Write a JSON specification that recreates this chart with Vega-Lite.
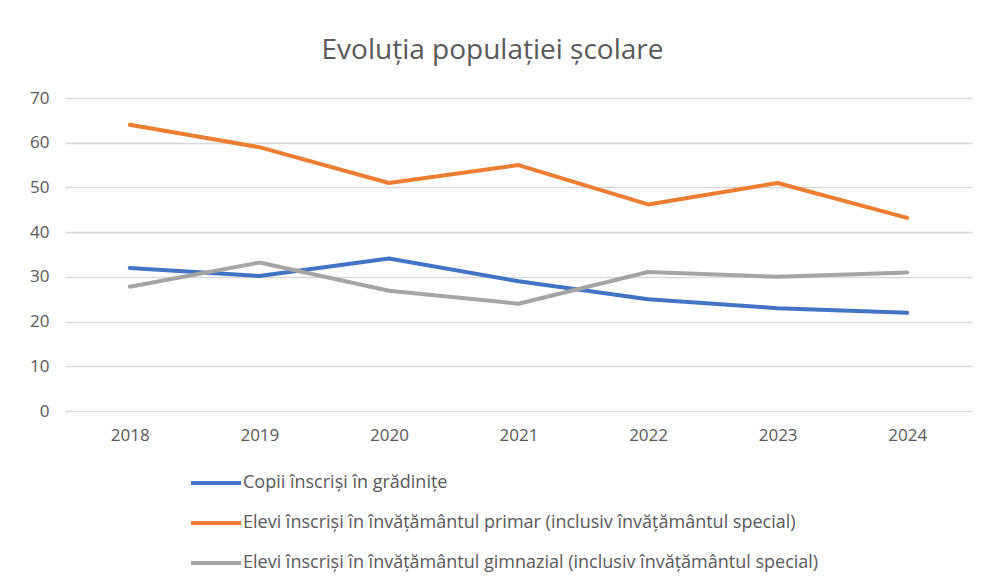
{
  "$schema": "https://vega.github.io/schema/vega-lite/v6.json",
  "width": 907,
  "height": 313,
  "autosize": {"type": "none"},
  "padding": {"left": 65, "top": 98, "right": 10, "bottom": 174},
  "background": "white",
  "title": {
    "text": "Evoluția populației școlare",
    "fontSize": 28,
    "font": "Open Sans",
    "fontWeight": "normal",
    "color": "#595959",
    "anchor": "middle",
    "dx": -26,
    "offset": 24
  },
  "data": {
    "values": [
      {"an": "2018", "serie": "Copii înscriși în grădinițe", "valoare": 32},
      {"an": "2019", "serie": "Copii înscriși în grădinițe", "valoare": 30.2},
      {"an": "2020", "serie": "Copii înscriși în grădinițe", "valoare": 34.1},
      {"an": "2021", "serie": "Copii înscriși în grădinițe", "valoare": 29},
      {"an": "2022", "serie": "Copii înscriși în grădinițe", "valoare": 25},
      {"an": "2023", "serie": "Copii înscriși în grădinițe", "valoare": 23},
      {"an": "2024", "serie": "Copii înscriși în grădinițe", "valoare": 22},
      {"an": "2018", "serie": "Elevi înscriși în învățământul primar (inclusiv învățământul special)", "valoare": 64},
      {"an": "2019", "serie": "Elevi înscriși în învățământul primar (inclusiv învățământul special)", "valoare": 59},
      {"an": "2020", "serie": "Elevi înscriși în învățământul primar (inclusiv învățământul special)", "valoare": 51},
      {"an": "2021", "serie": "Elevi înscriși în învățământul primar (inclusiv învățământul special)", "valoare": 55},
      {"an": "2022", "serie": "Elevi înscriși în învățământul primar (inclusiv învățământul special)", "valoare": 46.2},
      {"an": "2023", "serie": "Elevi înscriși în învățământul primar (inclusiv învățământul special)", "valoare": 51},
      {"an": "2024", "serie": "Elevi înscriși în învățământul primar (inclusiv învățământul special)", "valoare": 43.2},
      {"an": "2018", "serie": "Elevi înscriși în învățământul gimnazial (inclusiv învățământul special)", "valoare": 27.8},
      {"an": "2019", "serie": "Elevi înscriși în învățământul gimnazial (inclusiv învățământul special)", "valoare": 33.2},
      {"an": "2020", "serie": "Elevi înscriși în învățământul gimnazial (inclusiv învățământul special)", "valoare": 26.9},
      {"an": "2021", "serie": "Elevi înscriși în învățământul gimnazial (inclusiv învățământul special)", "valoare": 24},
      {"an": "2022", "serie": "Elevi înscriși în învățământul gimnazial (inclusiv învățământul special)", "valoare": 31.1},
      {"an": "2023", "serie": "Elevi înscriși în învățământul gimnazial (inclusiv învățământul special)", "valoare": 30},
      {"an": "2024", "serie": "Elevi înscriși în învățământul gimnazial (inclusiv învățământul special)", "valoare": 31}
    ]
  },
  "mark": {"type": "line", "strokeWidth": 4, "strokeCap": "round", "strokeJoin": "round"},
  "encoding": {
    "x": {
      "field": "an",
      "type": "ordinal",
      "scale": {"type": "point", "padding": 0.5},
      "axis": {
        "title": null,
        "labelAngle": 0,
        "labelFont": "Open Sans",
        "labelFontSize": 17,
        "labelColor": "#595959",
        "labelPadding": 16,
        "ticks": false,
        "domain": false,
        "grid": false
      }
    },
    "y": {
      "field": "valoare",
      "type": "quantitative",
      "scale": {"domain": [0, 70]},
      "axis": {
        "title": null,
        "values": [0, 10, 20, 30, 40, 50, 60, 70],
        "labelFont": "Open Sans",
        "labelFontSize": 17,
        "labelColor": "#595959",
        "labelPadding": 16,
        "ticks": false,
        "domain": false,
        "grid": true,
        "gridColor": "#d9d9d9",
        "gridWidth": 1.5
      }
    },
    "color": {
      "field": "serie",
      "type": "nominal",
      "sort": [
        "Copii înscriși în grădinițe",
        "Elevi înscriși în învățământul primar (inclusiv învățământul special)",
        "Elevi înscriși în învățământul gimnazial (inclusiv învățământul special)"
      ],
      "scale": {"range": ["#4472C4", "#ED7D31", "#A5A5A5"]},
      "legend": {
        "title": null,
        "orient": "none",
        "legendX": 124,
        "legendY": 358,
        "direction": "vertical",
        "symbolType": "stroke",
        "symbolSize": 2500,
        "symbolStrokeWidth": 4,
        "labelFont": "Open Sans",
        "labelFontSize": 18,
        "labelColor": "#595959",
        "labelLimit": 800,
        "labelOffset": 0,
        "rowPadding": 4
      }
    }
  },
  "config": {
    "view": {"stroke": null}
  }
}
